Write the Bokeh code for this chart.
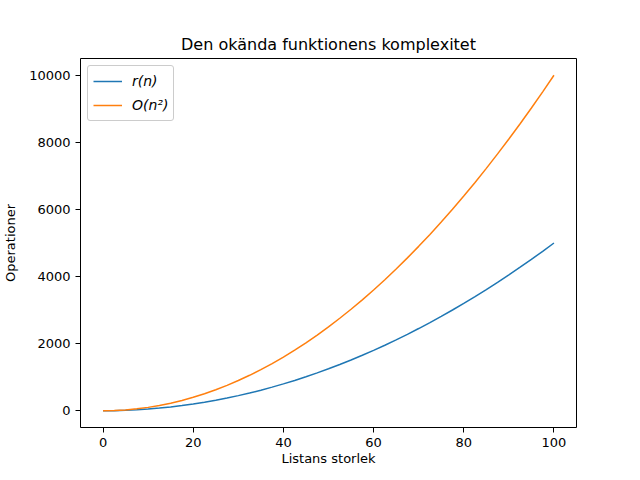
from bokeh.plotting import figure
from bokeh.models import Range1d, FixedTicker, Legend, LegendItem
from bokeh.embed import file_html
from bokeh.resources import INLINE

n_values = [0, 2.5, 5, 7.5, 10, 12.5, 15, 17.5, 20, 22.5, 25, 27.5, 30, 32.5, 35, 37.5, 40,
            42.5, 45, 47.5, 50, 52.5, 55, 57.5, 60, 62.5, 65, 67.5, 70, 72.5, 75, 77.5, 80,
            82.5, 85, 87.5, 90, 92.5, 95, 97.5, 100]
r_values = [0, 3, 12.5, 28, 50, 78, 112.5, 153, 200, 253, 312.5, 378, 450, 528, 612.5, 703,
            800, 903, 1012.5, 1128, 1250, 1378, 1512.5, 1653, 1800, 1953, 2112.5, 2278, 2450,
            2628, 2812.5, 3003, 3200, 3403, 3612.5, 3828, 4050, 4278, 4512.5, 4753, 5000]
o_values = [0, 6, 25, 56, 100, 156, 225, 306, 400, 506, 625, 756, 900, 1056, 1225, 1406,
            1600, 1806, 2025, 2256, 2500, 2756, 3025, 3306, 3600, 3906, 4225, 4556, 4900,
            5256, 5625, 6006, 6400, 6806, 7225, 7656, 8100, 8556, 9025, 9506, 10000]
x_ticks = [0, 20, 40, 60, 80, 100]
y_ticks = [0, 2000, 4000, 6000, 8000, 10000]

FONT = "DejaVu Sans"

p = figure(width=624, height=472, output_backend="svg", toolbar_location=None,
           x_range=Range1d(-5, 105), y_range=Range1d(-500, 10500),
           title="Den okända funktionens komplexitet",
           min_border_left=72, min_border_right=48, min_border_top=58, min_border_bottom=45)
p.title.align = "center"
p.title.text_font = FONT
p.title.text_font_size = "16px"
p.title.text_font_style = "normal"
p.title.text_color = "black"

p.grid.visible = False
p.outline_line_color = "black"
p.outline_line_width = 1
p.background_fill_color = "white"
p.border_fill_color = "white"

for ax in (p.xaxis[0], p.yaxis[0]):
    ax.axis_line_color = None
    ax.major_tick_out = 5
    ax.major_tick_in = 0
    ax.minor_tick_out = 0
    ax.minor_tick_in = 0
    ax.major_tick_line_color = "black"
    ax.major_label_text_font = FONT
    ax.major_label_text_font_size = "13px"
    ax.major_label_text_color = "black"
    ax.axis_label_text_font = FONT
    ax.axis_label_text_font_size = "13px"
    ax.axis_label_text_font_style = "normal"
    ax.axis_label_text_color = "black"

p.xaxis.ticker = FixedTicker(ticks=x_ticks)
p.yaxis.ticker = FixedTicker(ticks=y_ticks)
p.xaxis.axis_label = "Listans storlek"
p.yaxis.axis_label = "Operationer"
p.xaxis.major_label_standoff = 5
p.xaxis.axis_label_standoff = 1
p.yaxis.axis_label_standoff = 8
p.yaxis.major_label_orientation = "horizontal"

r1 = p.line(n_values, r_values, line_color="#1f77b4", line_width=1.5)
r2 = p.line(n_values, o_values, line_color="#ff7f0e", line_width=1.5)

legend = Legend(items=[LegendItem(label="r(n)", renderers=[r1]),
                       LegendItem(label="O(n²)", renderers=[r2])],
                location="top_left")
legend.label_text_font = FONT
legend.label_text_font_size = "14px"
legend.label_text_font_style = "italic"
legend.label_text_color = "black"
legend.border_line_color = "#cccccc"
legend.border_line_alpha = 1
legend.border_radius = 3
legend.margin = 7
legend.padding = 5
legend.spacing = 4
legend.glyph_width = 29
legend.glyph_height = 20
legend.label_standoff = 10
legend.background_fill_alpha = 0.8
p.add_layout(legend, "center")

open("out.html", "w").write(file_html(p, INLINE))
